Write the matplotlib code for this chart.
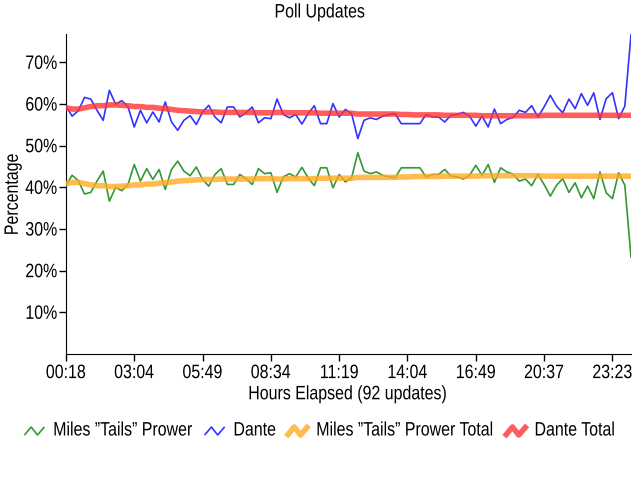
import numpy as np
import matplotlib
matplotlib.use("Agg")
import matplotlib.pyplot as plt
from matplotlib.lines import Line2D
from matplotlib.patheffects import AbstractPathEffect
from matplotlib.transforms import Affine2D

# ---------------- data ----------------
tick_labels = ["00:18", "03:04", "05:49", "08:34", "11:19", "14:04", "16:49", "20:37", "23:23"]
tick_step = 11

dante = [59.5, 57.1, 58.4, 61.6, 61.2, 58.5, 56.1, 63.3, 60.0, 60.8,
         59.3, 54.5, 58.5, 55.5, 58.1, 55.7, 60.5, 55.7, 53.7, 56.1,
         57.2, 55.1, 58.1, 59.7, 56.9, 55.5, 59.3, 59.3, 56.9, 57.9,
         59.3, 55.5, 56.7, 56.5, 61.2, 57.5, 56.7, 57.5, 55.2, 57.7,
         59.6, 55.3, 55.3, 60.1, 56.9, 58.7, 57.7, 51.7, 56.1, 56.7,
         56.3, 57.1, 57.5, 57.7, 55.3, 55.3, 55.3, 55.3, 57.5, 56.9,
         56.9, 55.7, 57.3, 57.5, 58.0, 57.1, 54.7, 57.1, 54.5, 58.8,
         55.3, 56.3, 56.8, 58.5, 58.0, 59.6, 56.9, 59.3, 62.1, 59.5,
         57.9, 61.2, 58.9, 62.5, 59.7, 62.7, 56.3, 61.3, 62.7, 56.5,
         59.5, 76.8]

miles = [40.5, 42.9, 41.6, 38.4, 38.8, 41.5, 43.9, 36.7, 40.0, 39.2,
         40.7, 45.5, 41.5, 44.5, 41.9, 44.3, 39.5, 44.3, 46.3, 43.9,
         42.8, 44.9, 41.9, 40.3, 43.1, 44.5, 40.7, 40.7, 43.1, 42.1,
         40.7, 44.5, 43.3, 43.5, 38.8, 42.5, 43.3, 42.5, 44.8, 42.3,
         40.4, 44.7, 44.7, 39.9, 43.1, 41.3, 42.3, 48.3, 43.9, 43.3,
         43.7, 42.9, 42.5, 42.3, 44.7, 44.7, 44.7, 44.7, 42.5, 43.1,
         43.1, 44.3, 42.7, 42.5, 42.0, 42.9, 45.3, 42.9, 45.5, 41.2,
         44.7, 43.7, 43.2, 41.5, 42.0, 40.4, 43.1, 40.7, 37.9, 40.5,
         42.1, 38.8, 41.1, 37.5, 40.3, 37.3, 43.7, 38.7, 37.3, 43.5,
         40.5, 23.2]

dante_total = [59.1, 58.8, 58.8, 59.1, 59.4, 59.6, 59.6, 59.8, 59.8, 59.7,
               59.6, 59.4, 59.4, 59.2, 59.2, 59.0, 58.9, 58.7, 58.5, 58.4,
               58.3, 58.2, 58.1, 58.1, 58.1, 58.0, 58.0, 58.0, 58.0, 58.0,
               58.0, 57.9, 57.9, 57.9, 58.0, 58.0, 57.9, 57.9, 57.9, 57.9,
               57.9, 57.8, 57.8, 57.8, 57.8, 57.8, 57.8, 57.6, 57.6, 57.6,
               57.6, 57.6, 57.6, 57.6, 57.5, 57.5, 57.4, 57.4, 57.4, 57.4,
               57.4, 57.3, 57.3, 57.3, 57.3, 57.3, 57.3, 57.2, 57.2, 57.2,
               57.2, 57.2, 57.2, 57.2, 57.2, 57.2, 57.2, 57.3, 57.3, 57.3,
               57.3, 57.3, 57.3, 57.3, 57.3, 57.3, 57.3, 57.3, 57.3, 57.3,
               57.3, 57.3]

miles_total = [40.9, 41.2, 41.2, 40.9, 40.6, 40.4, 40.4, 40.2, 40.2, 40.3,
               40.4, 40.6, 40.6, 40.8, 40.8, 41.0, 41.1, 41.3, 41.5, 41.6,
               41.7, 41.8, 41.9, 41.9, 41.9, 42.0, 42.0, 42.0, 42.0, 42.0,
               42.0, 42.1, 42.1, 42.1, 42.0, 42.0, 42.1, 42.1, 42.1, 42.1,
               42.1, 42.2, 42.2, 42.2, 42.2, 42.2, 42.2, 42.4, 42.4, 42.4,
               42.4, 42.4, 42.4, 42.4, 42.5, 42.5, 42.6, 42.6, 42.6, 42.6,
               42.6, 42.7, 42.7, 42.7, 42.7, 42.7, 42.7, 42.8, 42.8, 42.8,
               42.8, 42.8, 42.8, 42.8, 42.8, 42.8, 42.8, 42.7, 42.7, 42.7,
               42.7, 42.7, 42.7, 42.7, 42.7, 42.7, 42.7, 42.7, 42.7, 42.7,
               42.7, 42.7]

series_names = ["Miles \u201dTails\u201d Prower", "Dante",
                "Miles \u201dTails\u201d Prower Total", "Dante Total"]

FS = 14
plt.rcParams["font.family"] = ["Liberation Sans", "DejaVu Sans"]
plt.rcParams["font.size"] = FS

SX = 0.82  # narrow (condensed) look of the reference font


class Condense(AbstractPathEffect):
    """Draw text horizontally condensed around an anchor (0=left, .5=center, 1=right)."""

    def __init__(self, sx=SX, anchor=0.5):
        super().__init__()
        self.sx = sx
        self.anchor = anchor

    def draw_path(self, renderer, gc, tpath, affine, rgbFace=None):
        ext = tpath.get_extents()
        cx = ext.x0 + self.anchor * (ext.x1 - ext.x0)
        t = Affine2D().translate(-cx, 0).scale(self.sx, 1).translate(cx, 0) + affine
        renderer.draw_path(gc, tpath, t, rgbFace)


fig = plt.figure(figsize=(6.4, 4.8), dpi=100)
W, H = 640.0, 480.0
ax = fig.add_axes([0.103, 0.2625, 0.883, 0.6665])

x = np.arange(len(dante))
c_green = "#339933"
c_blue = "#3333ff"
c_orange = "#ffaa22"
c_red = "#ff3333"

ax.plot(x, miles, color=c_green, lw=1.2, zorder=3)
ax.plot(x, dante, color=c_blue, lw=1.2, zorder=3)
ax.plot(x, miles_total, color=c_orange, lw=4, alpha=0.8, solid_capstyle="butt", zorder=4)
ax.plot(x, dante_total, color=c_red, lw=4, alpha=0.8, solid_capstyle="butt", zorder=4)

ax.set_xlim(0, len(dante) - 1)
ax.set_ylim(0, max(dante))
yt = [10, 20, 30, 40, 50, 60, 70]
ax.set_yticks(yt)
ax.set_yticklabels([f"{v}%" for v in yt])
ax.set_xticks(np.arange(len(tick_labels)) * tick_step)
ax.set_xticklabels(tick_labels)
ax.tick_params(direction="out", length=5, width=1, pad=3, labelsize=FS)
ax.tick_params(axis="y", pad=1)

for s in ["top", "right"]:
    ax.spines[s].set_visible(False)

ylab = ax.set_ylabel("Percentage", fontsize=FS)
ax.yaxis.set_label_coords(-0.078, 0.5)
xlab = ax.set_xlabel("Hours Elapsed (92 updates)", fontsize=FS, labelpad=3)
title = fig.text(0.5, 0.973, "Poll Updates", ha="center", va="center", fontsize=FS)

for t in ax.get_yticklabels():
    t.set_path_effects([Condense(anchor=1.0)])
for t in ax.get_xticklabels():
    t.set_path_effects([Condense(anchor=0.5)])
for t in (ylab, xlab, title):
    t.set_path_effects([Condense(anchor=0.5)])

# ---------------- legend (zigzag icons, condensed text) ----------------
colors = [c_green, c_blue, c_orange, c_red]
widths = [1.2, 1.2, 4, 4]
alphas = [1, 1, 0.8, 0.8]
renderer = fig.canvas.get_renderer()
leg_y = 49.0          # px from bottom
icon_w, gap1, gap2 = 19.0, 9.0, 12.0
texts = []
tw = []
for name in series_names:
    t = fig.text(0, leg_y / H, name, ha="left", va="center", fontsize=FS)
    tw.append(t.get_window_extent(renderer).width * SX)
    texts.append(t)
total = sum(icon_w + gap1 + w for w in tw) + gap2 * (len(tw) - 1)
xpos = W / 2 - total / 2
zx = np.array([0.0, 0.33, 0.66, 1.0])
zy = np.array([-3.5, 4.0, -4.0, 3.5])
for t, w, c, lw, a in zip(texts, tw, colors, widths, alphas):
    fig.add_artist(Line2D((xpos + zx * icon_w) / W, (leg_y + zy) / H,
                          transform=fig.transFigure, color=c, lw=lw, alpha=a))
    t.set_x((xpos + icon_w + gap1) / W)
    t.set_path_effects([Condense(anchor=0.0)])
    xpos += icon_w + gap1 + w + gap2

fig.savefig("out.png", dpi=100)
